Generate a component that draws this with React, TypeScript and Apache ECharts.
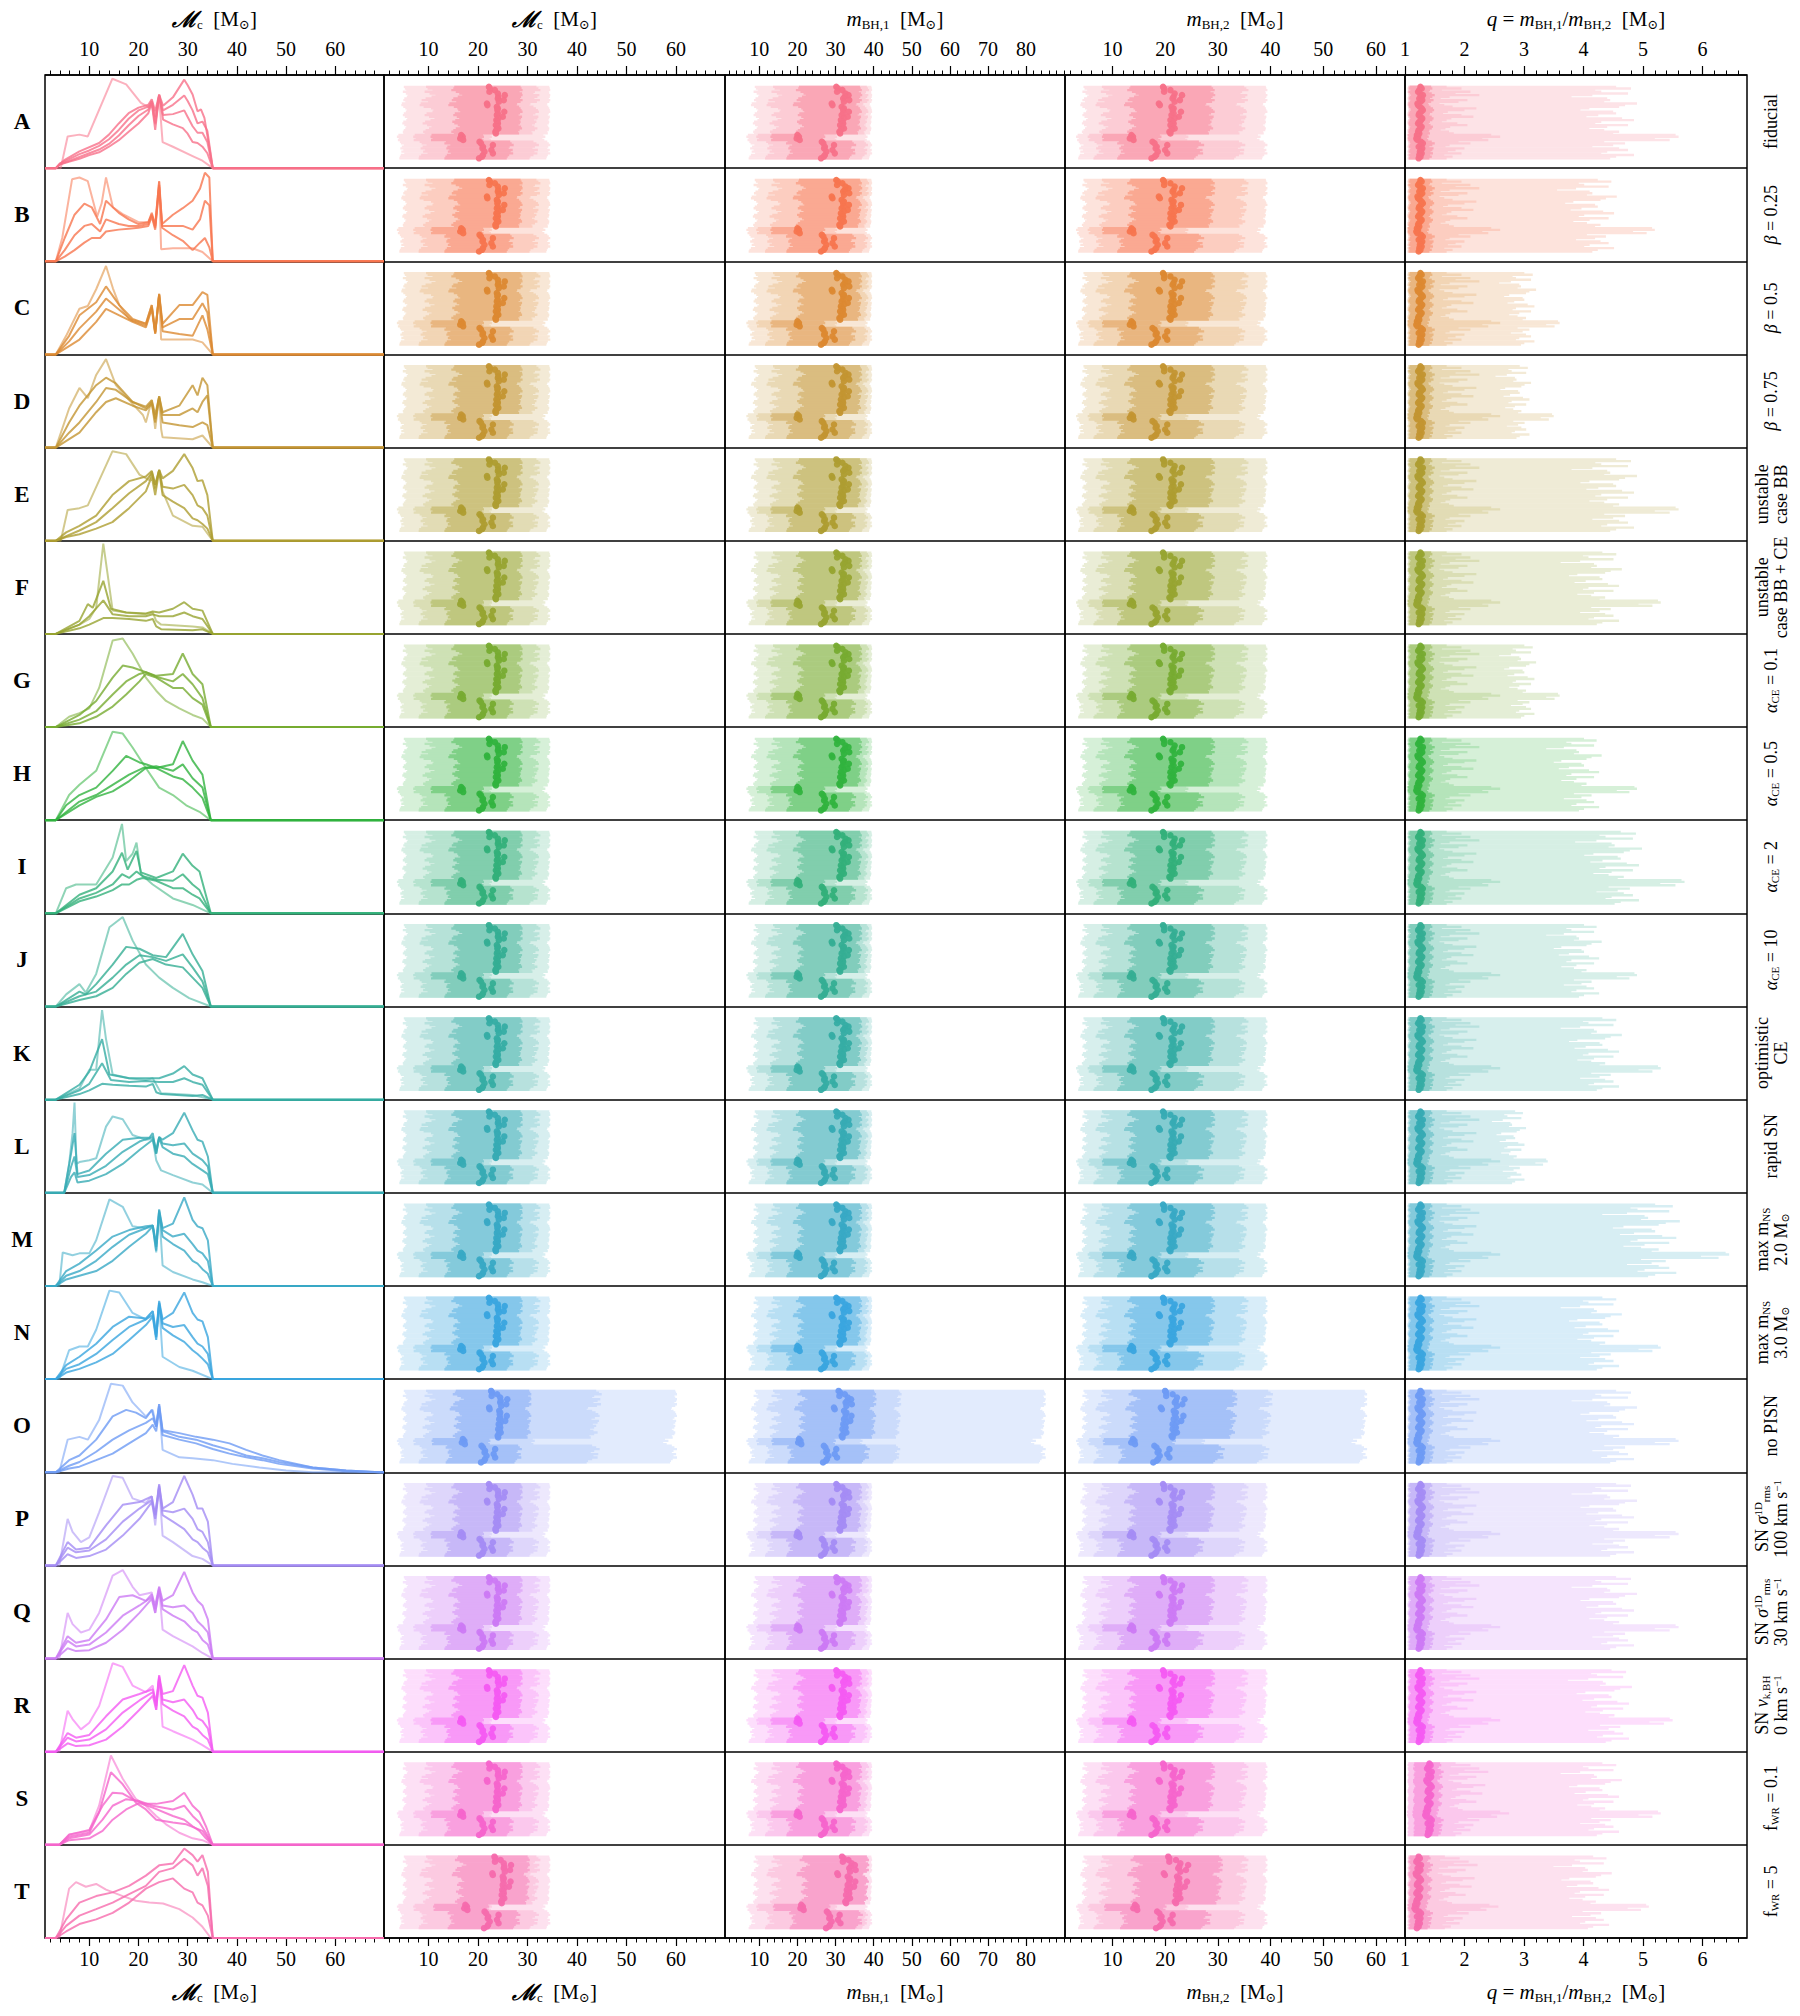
import React, { useEffect, useRef } from 'react';
import * as echarts from 'echarts';

const SERIF = "'Liberation Serif', 'DejaVu Serif', serif";
const ROWS = ['A','B','C','D','E','F','G','H','I','J','K','L','M','N','O','P','Q','R','S','T'];

const RIGHT_LABELS = [
  '{n|fiducial}',
  '{i|β}{n| = 0.25}',
  '{i|β}{n| = 0.5}',
  '{i|β}{n| = 0.75}',
  '{n|unstable}\n{n|case BB}',
  '{n|unstable}\n{n|case BB + CE}',
  '{i|α}{s|CE}{n| = 0.1}',
  '{i|α}{s|CE}{n| = 0.5}',
  '{i|α}{s|CE}{n| = 2}',
  '{i|α}{s|CE}{n| = 10}',
  '{n|optimistic}\n{n|CE}',
  '{n|rapid SN}',
  '{n|max m}{s|NS}\n{n|2.0 M}{s|⊙}',
  '{n|max m}{s|NS}\n{n|3.0 M}{s|⊙}',
  '{n|no PISN}',
  '{n|SN }{i|σ}{u|1D}{s|rms}\n{n|100 km s}{u|−1}',
  '{n|SN }{i|σ}{u|1D}{s|rms}\n{n|30 km s}{u|−1}',
  '{n|SN }{i|v}{s|k,BH}\n{n|0 km s}{u|−1}',
  '{n|f}{s|WR}{n| = 0.1}',
  '{n|f}{s|WR}{n| = 5}',
];

const TITLE_MC = '{m|ℳ}{s|c}{n|  [M}{s|⊙}{n|]}';
const TITLE_M1 = '{i|m}{s|BH,1}{n|  [M}{s|⊙}{n|]}';
const TITLE_M2 = '{i|m}{s|BH,2}{n|  [M}{s|⊙}{n|]}';
const TITLE_Q = '{i|q}{n| = }{i|m}{s|BH,1}{n|/}{i|m}{s|BH,2}{n|  [M}{s|⊙}{n|]}';

const TICKS_MC = [10, 20, 30, 40, 50, 60];
const TICKS_M1 = [10, 20, 30, 40, 50, 60, 70, 80];
const TICKS_M2 = [10, 20, 30, 40, 50, 60];
const TICKS_Q = [1, 2, 3, 4, 5, 6];

// ---- Column 1: chirp-mass distributions, flat [x, y(% of panel height)] ----
const LINES_A = [
  [4.2,0, 5.6,34, 8.0,36, 9.7,34, 14.7,96, 17.5,90, 20.5,70, 22.2,65, 22.7,70, 23.4,47, 24.2,76, 24.9,28, 27.0,23, 31.0,13, 33.0,8, 35.1,0],
  [3.2,0, 5,9, 8,18, 12,27, 14,36, 16,48, 18,59, 20,65, 22,68, 22.7,74, 23.4,61, 24.2,79, 25,67, 27,76, 29.3,95, 30,89, 31,79, 32,61, 32.7,63, 33.4,54, 35.1,0],
  [3.2,0, 4,5, 6,10, 8,15, 10,19, 12,24, 14,31, 16,41, 18,53, 20,62, 22,66, 22.7,72, 23.4,55, 24.2,78, 25,62, 27,68, 29.3,78, 30,72, 31,62, 32,48, 33,50, 34,40, 35.1,0],
  [3.2,0, 4,4, 6,8, 8,12, 10,16, 12,20, 14,26, 16,35, 18,46, 20,56, 22,63, 22.7,71, 23.4,48, 24.2,78, 25,57, 27,58, 29.3,62, 30,55, 31,45, 32,38, 33,38, 34,28, 35.1,0],
  [3.2,0, 4,4, 6,7, 8,10, 10,14, 12,17, 14,23, 16,30, 18,39, 20,48, 22,59, 22.7,70, 23.4,41, 24.2,79, 25,52, 27,47, 29,43, 30,37, 31,28, 32,27, 33,23, 34,16, 35.1,0],
];
const LINES_B = [
  [3.2,0, 4.5,25, 6.5,88, 8,90, 9.7,86, 11.6,48, 12.5,62, 13.4,90, 14.8,58, 17,50, 20,42, 22,42, 22.7,50, 23.4,40, 24.2,85, 24.6,13, 27,14, 31,14, 33,10, 35.1,0],
  [3.2,0, 5,25, 7,50, 9,62, 10.5,58, 12.2,40, 13.4,65, 16,52, 18,45, 20,40, 22,42, 22.7,52, 23.4,38, 24.2,86, 24.8,40, 27,50, 29,57, 31,65, 32.5,78, 33.5,95, 34.4,90, 35.1,0],
  [3.2,0, 5,12, 7,28, 9,38, 10.5,40, 12.2,32, 13.4,45, 16,40, 18,38, 20,38, 22,40, 22.7,50, 23.4,36, 24.2,82, 24.8,38, 27,38, 29,38, 31,34, 32.5,45, 33.5,65, 34.4,60, 35.1,0],
  [3.2,0, 5,5, 7,12, 9,20, 10.5,25, 12.2,25, 13.4,32, 16,34, 18,35, 20,36, 22,38, 22.7,48, 23.4,34, 24.2,80, 24.8,36, 27,28, 29,22, 31,12, 32.5,20, 33.5,25, 34.4,15, 35.1,0],
];
const LINES_C = [
  [3.2,0, 5.3,20, 8,49, 9.7,52, 11.4,70, 13.4,95, 14.8,71, 16.1,53, 18.1,38, 21.5,33, 22.7,53, 23.4,24, 24.2,65, 24.6,16, 31,16, 33,13, 35.1,0],
  [3.2,0, 5.9,20, 8,42, 11.4,56, 13.4,73, 16.1,53, 18.8,38, 21.5,33, 22.7,53, 23.4,24, 24.2,65, 24.9,33, 28.3,53, 31,53, 33,67, 34,64, 35.1,0],
  [3.2,0, 5.9,14, 8,28, 11.4,46, 13.4,60, 16.1,48, 18.8,36, 21.5,31, 22.7,51, 23.4,23, 24.2,64, 24.9,29, 28.3,38, 31,38, 33,55, 34,45, 35.1,0],
  [3.2,0, 5.9,9, 8,16, 11.4,35, 13.4,49, 16.1,42, 18.8,35, 21.5,29, 22.7,49, 23.4,22, 24.2,64, 24.9,25, 28.3,22, 31,20, 33,42, 34,27, 35.1,0],
];
const LINES_D = [
  [3.2,0, 5.9,42, 8,64, 9.7,53, 11.4,78, 13.4,95, 15.4,67, 18.1,51, 20.9,35, 21.5,27, 22.7,51, 23.4,20, 24.2,55, 24.6,20, 24.9,11, 31,9, 33,13, 35.1,0],
  [3.2,0, 5.9,27, 8,45, 11.4,67, 13.4,75, 15.4,69, 18.8,49, 21.5,44, 22.7,51, 23.4,35, 24.2,55, 24.9,38, 28.3,45, 31,67, 32,56, 33,75, 34,67, 35.1,0],
  [3.2,0, 5.9,16, 8,27, 11.4,49, 13.4,64, 15.4,62, 18.8,49, 21.5,42, 22.7,49, 23.4,31, 24.2,55, 24.9,35, 28.3,35, 31,42, 32,38, 33,49, 34,56, 35.1,0],
  [3.2,0, 5.9,9, 8,16, 11.4,38, 13.4,49, 15.4,53, 18.8,45, 21.5,40, 22.7,47, 23.4,27, 24.2,53, 24.9,27, 28.3,24, 31,22, 33,27, 34,24, 35.1,0],
];
const LINES_E = [
  [4.2,0, 5.6,33, 8,35, 9.7,38, 14.7,96, 17.5,93, 20.2,71, 22.2,65, 22.7,75, 23.4,60, 24.2,76, 24.9,53, 27,27, 31,16, 33,15, 35.1,0],
  [3.2,0, 5.3,9, 8,16, 11.4,27, 14.7,49, 18.1,64, 21.5,69, 22.7,75, 23.4,60, 24.2,76, 24.9,67, 27,75, 29.3,93, 31,78, 32,64, 33,65, 34,49, 35.1,0],
  [3.2,0, 5.3,5, 8,11, 11.4,20, 14.7,35, 18.1,51, 21.5,64, 22.7,73, 23.4,56, 24.2,76, 24.9,58, 27,56, 29.3,60, 31,49, 32,38, 33,35, 34,27, 35.1,0],
  [3.2,0, 5.3,4, 8,7, 11.4,13, 14.7,20, 18.1,35, 21.5,53, 22.7,69, 23.4,49, 24.2,75, 24.9,49, 27,42, 29.3,35, 31,24, 32,22, 33,18, 34,13, 35.1,0],
];
const LINES_F = [
  [3.2,0, 8,10, 10,16, 11.4,28, 12,57, 12.85,97, 13.7,65, 14.75,25, 17.5,23, 21.5,21, 22.9,23, 23.6,14, 24.6,10, 31,8, 33,7, 35.1,0],
  [3.2,0, 8,14, 9.7,32, 10.7,28, 12.85,57, 14.4,27, 17.5,23, 21.5,22, 22.9,24, 24.2,23, 27,27, 29.3,34, 31,27, 33,25, 35.1,0],
  [3.2,0, 8,10, 10,19, 12.85,36, 14.75,21, 18.1,19, 21.5,19, 22.9,21, 24.2,19, 27,19, 29.3,23, 31,19, 33,16, 35.1,0],
  [3.2,0, 8,6, 10,10, 12.85,17, 14.75,17, 18.1,16, 21.5,14, 22.9,16, 23.6,8, 24.6,5, 31,4, 33,5, 35.1,0],
];
const LINES_G = [
  [3.2,0, 5.9,11, 8,15, 10,20, 12,42, 14.75,93, 16.8,95, 18.8,79, 21.5,53, 23.6,39, 25.6,28, 28.3,20, 31,13, 33,9, 34.7,0],
  [3.2,0, 8,13, 11.4,28, 14.75,53, 16.8,66, 18.8,64, 21.5,59, 23.6,55, 27,57, 29,79, 31,57, 33,46, 34.7,0],
  [3.2,0, 8,8, 11.4,17, 14.75,35, 17.5,49, 20.2,57, 21.5,59, 23.6,54, 27,49, 29,57, 31,46, 33,31, 34.7,0],
  [3.2,0, 8,4, 11.4,11, 14.75,22, 17.5,35, 20.2,49, 21.5,57, 23.6,53, 27,42, 29,42, 31,31, 33,24, 34.7,0],
];
const LINES_H = [
  [3.2,0, 5.9,27, 8,38, 11.4,53, 14.75,95, 16.8,93, 18.8,78, 21.5,56, 24.2,35, 27,27, 29.7,16, 32.4,9, 34.7,0],
  [3.2,0, 5.3,16, 8,27, 11.4,35, 14.75,53, 17.5,69, 20.2,62, 21.5,60, 23.6,56, 27,60, 29,85, 31,64, 33,49, 34.7,0],
  [3.2,0, 8,20, 11.4,27, 14.75,38, 18.1,49, 20.9,56, 23.6,58, 27,53, 29,60, 31,45, 33,35, 34.7,0],
  [3.2,0, 8,16, 11.4,25, 14.75,31, 18.1,42, 21.5,56, 23.6,56, 27,47, 29,44, 31,35, 33,24, 34.7,0],
];
const LINES_I = [
  [3.2,0, 5.3,27, 7.3,31, 11.4,31, 14.75,60, 16.65,96, 17.5,56, 18.8,64, 19.6,76, 20.5,42, 22.9,31, 27,16, 31,9, 34.7,0],
  [3.2,0, 8,20, 11.4,27, 14.75,45, 16.65,65, 17.8,47, 19.6,67, 20.5,44, 23.6,38, 27,45, 29,64, 31,51, 32.4,45, 34.7,0],
  [3.2,0, 8,16, 11.4,22, 14.75,31, 16.65,42, 18.1,38, 19.6,45, 20.85,40, 23.6,36, 27,35, 29,42, 31,31, 32.4,25, 34.7,0],
  [3.2,0, 8,13, 11.4,18, 14.75,25, 16.65,31, 18.1,31, 19.6,36, 20.85,38, 23.6,35, 27,27, 29,27, 31,20, 32.4,16, 34.7,0],
];
const LINES_J = [
  [3.2,0, 5.3,13, 8,24, 9.3,15, 11.4,35, 14.1,85, 16.8,96, 18.8,71, 21.5,45, 24.2,31, 27,20, 30.3,9, 34.7,0],
  [3.2,0, 8,16, 9.3,13, 11.4,24, 14.75,45, 17.5,64, 20.2,62, 22.9,55, 25.6,53, 29,78, 31,56, 33,38, 34.7,0],
  [3.2,0, 8,11, 11.4,16, 14.75,31, 17.5,45, 20.2,55, 22.9,53, 25.6,49, 29,56, 31,42, 33,27, 34.7,0],
  [3.2,0, 8,7, 11.4,11, 14.75,20, 17.5,35, 20.2,47, 22.9,51, 25.6,45, 29,42, 31,31, 33,20, 34.7,0],
];
const LINES_K = [
  [3.2,0, 8,12, 10,32, 11.4,32, 12,65, 12.6,96, 13.4,65, 14.75,27, 18.1,23, 21.5,21, 22.9,23, 24.6,7, 31,5, 35.1,0],
  [3.2,0, 8,16, 10,30, 12.6,65, 14.1,27, 18.1,23, 21.5,23, 24.2,23, 27,28, 29.3,36, 31,27, 33,23, 35.1,0],
  [3.2,0, 8,10, 10,17, 12.6,39, 14.4,21, 18.1,19, 21.5,20, 24.2,19, 27,19, 29.3,23, 31,19, 33,16, 35.1,0],
  [3.2,0, 8,6, 10,10, 12.6,17, 14.75,16, 18.1,15, 21.5,14, 22.9,17, 23.6,8, 24.6,6, 31,4, 33,5, 35.1,0],
];
const LINES_L = [
  [4.9,0, 5.9,31, 6.6,64, 7.0,97, 7.4,31, 8,33, 10,35, 11.4,37, 13.4,71, 14.75,82, 16.8,79, 18.8,62, 21.5,57, 22.9,58, 23.6,35, 24.6,24, 27,19, 31,11, 33,9, 35.1,0],
  [4.9,0, 6.3,42, 7.0,64, 7.6,20, 10,24, 13.4,42, 16.8,57, 20.2,59, 22.2,59, 22.9,64, 23.6,42, 24.2,60, 24.9,57, 27,64, 29.3,86, 31,67, 32,57, 33,55, 34.1,39, 35.1,0],
  [4.9,0, 6.3,28, 7.0,39, 7.6,17, 10,19, 13.4,29, 16.8,44, 20.2,55, 22.9,60, 23.6,46, 24.2,60, 24.9,53, 27,51, 29.3,53, 31,42, 33,35, 34.1,28, 35.1,0],
  [4.9,0, 6.3,17, 7.0,22, 7.6,11, 10,13, 13.4,20, 16.8,31, 20.2,46, 22.9,57, 23.6,42, 24.2,59, 24.9,49, 27,42, 29.3,39, 31,31, 33,24, 34.1,20, 35.1,0],
];
const LINES_M = [
  [3.9,0, 4.6,36, 6.6,33, 8,35, 10,35, 11.4,49, 14.1,93, 16.8,85, 18.8,64, 21.5,62, 22.9,64, 23.6,36, 24.2,82, 24.9,22, 27,15, 31,7, 33,4, 35.1,0],
  [3.2,0, 5.3,16, 8,24, 11.4,38, 14.75,53, 18.1,60, 21.5,64, 22.9,65, 23.6,42, 24.2,82, 24.9,62, 27,67, 29.3,95, 31,71, 32,64, 33,62, 34.1,49, 35.1,0],
  [3.2,0, 5.3,11, 8,16, 11.4,27, 14.75,42, 18.1,55, 21.5,62, 22.9,65, 23.6,45, 24.2,80, 24.9,60, 27,53, 29.3,56, 31,45, 32,38, 33,35, 34.1,27, 35.1,0],
  [3.2,0, 5.3,7, 8,11, 11.4,16, 14.75,27, 18.1,42, 21.5,56, 22.9,64, 23.6,38, 24.2,78, 24.9,53, 27,45, 29.3,38, 31,27, 32,24, 33,18, 34.1,13, 35.1,0],
];
const LINES_N = [
  [3.9,0, 5.9,31, 8,35, 9.7,35, 11.4,53, 14.1,95, 16.1,93, 18.8,71, 21.5,64, 22.9,73, 23.6,45, 24.2,82, 24.9,24, 28.3,13, 31,9, 35.1,0],
  [3.2,0, 5.3,15, 8,24, 11.4,38, 14.75,56, 18.1,67, 21.5,65, 22.9,73, 23.6,49, 24.2,84, 24.9,64, 27,71, 29.3,93, 31,71, 32,64, 33,62, 34.1,45, 35.1,0],
  [3.2,0, 5.3,11, 8,16, 11.4,27, 14.75,42, 18.1,56, 21.5,64, 22.9,69, 23.6,45, 24.2,82, 24.9,60, 27,56, 29.3,58, 31,45, 32,38, 33,35, 34.1,27, 35.1,0],
  [3.2,0, 5.3,7, 8,11, 11.4,18, 14.75,27, 18.1,42, 21.5,58, 22.9,67, 23.6,42, 24.2,80, 24.9,55, 27,47, 29.3,40, 31,31, 32,27, 33,22, 34.1,16, 35.1,0],
];
const LINES_O = [
  [3.9,0, 5.6,35, 8,38, 9.7,35, 12,56, 14.4,95, 16.8,93, 18.8,75, 21.5,60, 22.9,67, 23.6,49, 24.2,73, 24.9,24, 28.3,16, 31,15, 35.1,13, 39.1,9, 44.6,5, 50,2, 55.4,0],
  [3.2,0, 5.9,13, 8,18, 11.4,35, 14.75,60, 17.5,67, 19.5,64, 21.5,58, 22.7,67, 23.6,49, 24.2,73, 24.9,45, 28.3,42, 31.7,38, 35.1,35, 38.5,31, 41.9,24, 45.2,18, 48.6,13, 55.4,5, 62.2,2, 69,0],
  [3.2,0, 5.9,7, 8,11, 11.4,22, 14.75,35, 18.1,45, 21.5,53, 22.9,58, 23.6,49, 24.2,71, 24.9,44, 28.3,38, 31.7,35, 35.1,29, 38.5,24, 41.9,18, 45.2,15, 48.6,11, 55.4,5, 62.2,2, 69,0],
  [3.2,0, 5.9,4, 8,6, 11.4,13, 14.75,20, 18.1,31, 21.5,42, 22.9,51, 23.6,44, 24.2,67, 24.9,40, 28.3,35, 31.7,31, 35.1,25, 38.5,20, 41.9,16, 45.2,13, 48.6,9, 55.4,4, 62.2,1, 69,0],
];
const LINES_P = [
  [3.9,0, 5.6,50, 6.6,36, 8.3,25, 10,30, 12,57, 14.75,96, 16.8,94, 18.8,72, 21.5,67, 22.7,74, 23.4,43, 24.2,87, 24.9,32, 27,25, 31,10, 33,7, 35.1,0],
  [3.2,0, 5.6,25, 7.3,17, 10,19, 13.4,43, 16.8,65, 20.2,68, 22.7,74, 23.4,54, 24.2,87, 24.9,61, 27,68, 29.3,96, 31,76, 32,61, 33,61, 34.1,47, 35.1,0],
  [3.2,0, 5.6,19, 7.3,14, 10,16, 13.4,28, 16.8,47, 20.2,61, 22.7,70, 23.4,54, 24.2,85, 24.9,59, 27,57, 29.3,61, 31,50, 32,39, 33,36, 34.1,25, 35.1,0],
  [3.2,0, 5.6,12, 7.3,8, 10,10, 13.4,17, 16.8,32, 20.2,50, 22.7,68, 23.4,50, 24.2,83, 24.9,54, 27,47, 29.3,39, 31,28, 32,25, 33,19, 34.1,14, 35.1,0],
];
const LINES_Q = [
  [3.9,0, 5.6,49, 6.6,37, 8.3,28, 10,31, 12,49, 14.75,89, 16.8,95, 18.8,77, 20.2,68, 22.7,71, 23.4,49, 24.2,77, 24.9,31, 27,24, 31,13, 33,6, 35.1,0],
  [3.2,0, 5.6,24, 7.3,17, 10,20, 13.4,42, 16.1,66, 18.8,68, 21.5,62, 22.7,69, 23.4,57, 24.2,77, 24.9,62, 27,68, 29.3,93, 31,71, 32,62, 33,57, 34.1,42, 35.1,0],
  [3.2,0, 5.6,19, 7.3,13, 10,15, 13.4,28, 16.8,46, 20.2,57, 22.7,66, 23.4,53, 24.2,75, 24.9,57, 27,55, 29.3,57, 31,49, 32,40, 33,35, 34.1,28, 35.1,0],
  [3.2,0, 5.6,11, 7.3,8, 10,9, 13.4,17, 16.8,31, 20.2,49, 22.7,64, 23.4,49, 24.2,73, 24.9,53, 27,46, 29.3,40, 31,31, 32,28, 33,20, 34.1,15, 35.1,0],
];
const LINES_R = [
  [3.9,0, 5.6,44, 6.6,35, 8.3,24, 10,31, 12,49, 14.75,95, 16.8,91, 18.8,71, 21.5,64, 22.9,71, 23.6,45, 24.2,82, 24.9,27, 27,22, 31,13, 33,7, 35.1,0],
  [3.2,0, 5.6,20, 7.3,15, 10,18, 13.4,38, 16.8,56, 20.2,62, 22.9,67, 23.6,53, 24.2,82, 24.9,62, 27,65, 29.3,93, 31,71, 32,60, 33,58, 34.1,42, 35.1,0],
  [3.2,0, 5.6,15, 7.3,11, 10,13, 13.4,24, 16.8,42, 20.2,55, 22.9,64, 23.6,49, 24.2,80, 24.9,56, 27,53, 29.3,56, 31,45, 32,36, 33,33, 34.1,25, 35.1,0],
  [3.2,0, 5.6,9, 7.3,6, 10,7, 13.4,13, 16.8,27, 20.2,45, 22.9,60, 23.6,45, 24.2,78, 24.9,51, 27,44, 29.3,38, 31,27, 32,24, 33,18, 34.1,13, 35.1,0],
];
const LINES_S = [
  [3.9,0, 5.9,11, 8,13, 10,15, 12,42, 14.4,96, 16.8,71, 19.5,49, 21.5,42, 23.6,31, 25.6,22, 28.3,13, 31,7, 33,5, 35.1,0],
  [3.9,0, 5.9,9, 10,13, 12,35, 14.4,78, 16.8,65, 19.5,45, 21.5,38, 23.6,27, 27,24, 29.7,22, 33,15, 35.1,0],
  [3.9,0, 5.9,11, 10,16, 12.7,42, 14.75,56, 16.8,55, 19.5,47, 21.5,44, 23.6,44, 27,47, 29.3,56, 31,42, 32.4,35, 33.7,20, 35.1,0],
  [3.9,0, 5.9,7, 10,11, 12.7,27, 14.75,42, 17.5,49, 20.2,47, 22.9,42, 27,38, 29.3,42, 31,31, 32.4,24, 33.7,13, 35.1,0],
  [3.9,0, 5.9,5, 10,7, 12.7,15, 14.75,27, 17.5,38, 20.2,45, 22.9,40, 27,31, 29.3,27, 31,20, 32.4,15, 33.7,7, 35.1,0],
];
const LINES_T = [
  [3.9,0, 5.9,53, 7.3,60, 9.3,55, 11.4,58, 13.4,52, 16.8,45, 19.5,40, 22.2,38, 25,37, 28.3,31, 31,22, 33,12, 34.7,0],
  [3.2,0, 5.3,20, 8,38, 11.4,45, 14.75,49, 18.1,56, 21.5,67, 24.2,78, 27,80, 29.3,96, 31,89, 32,82, 33,89, 34.1,71, 35.1,0],
  [3.2,0, 5.3,13, 8,24, 11.4,31, 14.75,38, 18.1,47, 21.5,56, 24.2,71, 27,75, 29.3,85, 31,78, 32,67, 33,75, 34.1,56, 35.1,0],
  [3.2,0, 5.3,7, 8,15, 11.4,20, 14.75,27, 18.1,38, 21.5,53, 24.2,60, 27,64, 29.3,53, 31,49, 32,38, 33,35, 34.1,24, 35.1,0],
];
const LINES = [LINES_A, LINES_B, LINES_C, LINES_D, LINES_E, LINES_F, LINES_G, LINES_H, LINES_I, LINES_J,
  LINES_K, LINES_L, LINES_M, LINES_N, LINES_O, LINES_P, LINES_Q, LINES_R, LINES_S, LINES_T];

// ---- Columns 2-5: per-event medians and credible intervals (44 events, top to bottom) ----
const MC_MED = [22.2,22.4,23.4,22.3,24.0,25.4,24.1,24.0,25.2,24.2,21.8,21.9,23.8,24.0,23.9,25.3,24.0,23.8,25.0,24.1,23.7,23.9,24.0,23.6,23.9,24.1,23.7,23.5,23.6,16.6,16.9,16.4,17.0,20.3,20.6,23.0,21.0,20.9,22.7,21.3,23.0,21.0,20.8,20.2];
const MC_IN_LO = [15.2,15.0,14.6,15.5,16.2,16.8,15.9,15.0,14.7,15.6,14.2,14.0,15.1,15.8,16.0,16.4,15.3,15.0,15.7,16.2,15.4,14.8,15.2,15.9,16.3,15.5,15.0,14.6,15.1,10.6,10.4,10.8,10.5,13.5,13.2,14.4,13.8,13.6,14.2,13.9,14.5,13.7,13.4,13.2];
const MC_IN_HI = [28.6,28.8,29.0,28.4,28.9,29.0,28.7,28.5,29.0,28.6,27.9,27.8,28.3,28.6,28.8,29.0,28.5,28.2,28.9,28.7,28.4,28.6,28.5,28.2,28.7,28.9,28.4,28.1,28.3,21.0,21.2,20.8,21.1,26.5,26.8,27.2,26.4,26.2,27.0,26.6,27.1,26.3,26.0,25.8];
const MC_MID_LO = [9.5,9.8,10.8,9.2,10.2,11.4,10.6,9.4,8.6,9.9,8.4,8.2,9.0,10.5,11.0,10.8,9.6,9.2,10.1,11.2,10.4,9.3,8.8,9.7,10.6,10.1,9.4,8.9,9.2,7.2,6.9,7.4,7.0,8.2,8.6,9.6,8.8,8.4,9.3,8.9,9.8,8.5,8.1,8.0];
const MC_MID_HI = [31.8,32.2,32.6,31.5,31.2,32.4,32.0,31.4,32.5,31.9,30.6,30.4,31.2,31.7,32.1,32.3,31.6,31.1,32.2,32.0,31.3,31.8,31.5,30.9,31.4,32.0,31.5,30.8,31.0,22.5,22.8,22.3,22.6,31.2,31.8,32.3,31.5,31.0,32.1,31.4,32.0,31.2,30.6,30.4];
const MC_OUT_LO = [5.0,5.2,5.5,4.8,5.4,5.8,5.6,5.1,4.9,5.3,4.6,4.5,4.9,5.3,5.6,5.4,5.0,4.8,5.2,5.7,5.5,4.9,4.7,5.1,5.5,5.3,5.0,4.8,4.9,3.9,3.6,4.0,3.8,4.2,4.4,5.0,4.6,4.3,4.9,4.5,5.1,4.4,4.2,4.1];
const MC_OUT_HI = [34.4,34.5,34.6,34.3,34.4,34.6,34.5,34.3,34.6,34.4,34.0,33.9,34.2,34.4,34.5,34.6,34.3,34.1,34.5,34.4,34.2,34.4,34.3,34.0,34.2,34.4,34.3,34.0,34.1,33.2,33.6,33.0,33.4,34.0,34.3,34.6,34.2,34.0,34.5,34.2,34.6,34.1,33.9,33.8];

const M1_MED = [30.2,30.6,31.8,30.4,32.6,33.4,32.4,32.0,33.6,32.2,29.0,29.2,31.6,32.2,32.0,33.5,32.0,31.6,33.2,32.2,31.4,31.8,32.0,31.2,31.8,32.2,31.4,31.0,31.2,20.0,20.4,19.8,20.6,26.4,26.8,29.6,27.2,27.0,29.2,27.6,29.8,27.2,26.9,26.2];
const M1_IN_LO = [20.4,20.2,19.6,20.8,21.6,22.2,21.2,20.2,19.8,20.8,19.0,18.8,20.2,21.0,21.4,21.8,20.5,20.1,21.0,21.6,20.6,19.9,20.3,21.2,21.7,20.7,20.1,19.6,20.2,13.2,12.9,13.5,13.1,17.4,17.0,18.6,17.9,17.6,18.4,18.0,18.8,17.7,17.3,17.1];
const M1_IN_HI = [36.4,36.6,36.9,36.1,36.7,37.0,36.5,36.2,36.9,36.4,35.5,35.3,36.0,36.4,36.6,36.9,36.2,35.8,36.7,36.5,36.1,36.4,36.2,35.8,36.4,36.7,36.1,35.7,35.9,27.0,27.3,26.7,27.1,34.4,34.8,35.4,34.2,34.0,35.1,34.6,35.2,34.2,33.8,33.5];
const M1_MID_LO = [13.6,14.0,15.4,13.2,14.6,16.0,15.0,13.5,12.4,14.1,12.2,11.9,13.0,14.9,15.6,15.3,13.8,13.2,14.4,15.8,14.8,13.4,12.7,13.9,15.1,14.4,13.5,12.8,13.2,9.6,9.2,9.9,9.4,11.8,12.3,13.6,12.6,12.1,13.3,12.7,13.9,12.2,11.7,11.5];
const M1_MID_HI = [38.2,38.5,38.8,38.0,37.8,38.6,38.3,37.9,38.7,38.3,37.3,37.1,37.7,38.1,38.4,38.6,38.0,37.6,38.5,38.3,37.8,38.2,37.9,37.5,37.9,38.3,37.9,37.4,37.6,30.0,30.4,29.8,30.2,37.6,38.0,38.5,37.8,37.4,38.3,37.8,38.2,37.6,37.1,36.9];
const M1_OUT_LO = [8.8,9.1,9.6,8.5,9.3,10.0,9.7,9.0,8.6,9.2,8.0,7.8,8.6,9.2,9.7,9.4,8.8,8.5,9.1,9.9,9.5,8.6,8.3,8.9,9.6,9.3,8.8,8.4,8.6,7.0,6.6,7.2,6.9,7.4,7.7,8.7,8.1,7.6,8.5,8.0,8.9,7.8,7.4,7.2];
const M1_OUT_HI = [39.4,39.5,39.6,39.3,39.4,39.6,39.5,39.3,39.6,39.4,39.0,38.9,39.2,39.4,39.5,39.6,39.3,39.1,39.5,39.4,39.2,39.4,39.3,39.0,39.2,39.4,39.3,39.0,39.1,38.0,38.4,37.8,38.2,39.0,39.3,39.6,39.2,39.0,39.5,39.2,39.6,39.1,38.9,38.8];

const M2_MED = [19.6,19.8,21.0,19.8,21.8,23.2,21.6,21.4,22.8,21.8,18.8,19.0,21.2,21.6,21.4,23.0,21.6,21.2,22.6,21.8,21.0,21.4,21.6,21.0,21.4,21.8,21.2,20.8,21.0,13.6,13.9,13.3,14.0,17.6,18.0,20.4,18.4,18.2,20.0,18.6,20.4,18.3,18.0,17.4];
const M2_IN_LO = [13.4,13.2,12.8,13.7,14.4,15.0,14.1,13.2,12.9,13.8,12.4,12.2,13.3,14.0,14.3,14.6,13.5,13.2,13.9,14.4,13.6,13.0,13.4,14.1,14.5,13.7,13.2,12.8,13.3,8.2,8.0,8.4,8.1,11.2,10.9,12.2,11.6,11.3,12.0,11.6,12.3,11.4,11.1,10.9];
const M2_IN_HI = [28.8,29.1,29.4,28.6,29.2,29.5,29.0,28.7,29.4,28.9,27.8,27.6,28.4,28.8,29.1,29.4,28.7,28.3,29.2,29.0,28.5,28.8,28.6,28.2,28.8,29.1,28.5,28.1,28.3,19.0,19.3,18.7,19.1,26.4,26.8,27.4,26.3,26.0,27.1,26.6,27.2,26.2,25.8,25.5];
const M2_MID_LO = [8.0,8.3,9.4,7.8,8.8,10.0,9.2,8.0,7.3,8.5,7.0,6.8,7.6,9.0,9.6,9.4,8.2,7.8,8.7,9.8,9.0,7.9,7.4,8.3,9.2,8.7,8.0,7.5,7.8,5.6,5.3,5.8,5.5,6.6,7.0,8.1,7.3,6.9,7.8,7.4,8.3,7.0,6.6,6.4];
const M2_MID_HI = [35.0,35.4,35.8,34.6,34.3,35.6,35.2,34.5,35.7,35.1,33.6,33.4,34.3,34.9,35.3,35.5,34.8,34.2,35.4,35.2,34.4,35.0,34.6,34.0,34.5,35.2,34.7,33.9,34.1,24.0,24.4,23.8,24.2,34.0,34.6,35.2,34.3,33.8,35.0,34.2,34.9,34.0,33.4,33.1];
const M2_OUT_LO = [4.5,4.7,5.2,4.3,4.9,5.5,5.2,4.6,4.3,4.8,4.0,3.9,4.3,4.8,5.2,5.0,4.5,4.3,4.7,5.3,5.0,4.4,4.2,4.6,5.1,4.8,4.5,4.2,4.4,3.4,3.1,3.6,3.3,3.6,3.8,4.5,4.0,3.7,4.4,3.9,4.6,3.8,3.6,3.5];
const M2_OUT_HI = [39.1,39.2,39.4,39.0,39.1,39.4,39.2,39.0,39.4,39.1,38.6,38.5,38.9,39.1,39.2,39.4,39.0,38.8,39.2,39.1,38.9,39.1,39.0,38.6,38.9,39.1,39.0,38.6,38.7,37.6,38.1,37.4,37.9,38.7,39.0,39.4,38.9,38.7,39.2,38.9,39.4,38.8,38.5,38.4];

const Q_MED = [1.26,1.28,1.24,1.22,1.25,1.30,1.27,1.24,1.29,1.26,1.21,1.22,1.25,1.28,1.30,1.27,1.24,1.23,1.26,1.29,1.27,1.24,1.22,1.25,1.28,1.26,1.23,1.22,1.24,1.20,1.22,1.19,1.21,1.27,1.30,1.26,1.23,1.29,1.27,1.25,1.28,1.24,1.26,1.23];
const Q_IN_LO = [1.08,1.07,1.09,1.06,1.08,1.10,1.08,1.07,1.09,1.08,1.06,1.06,1.07,1.09,1.10,1.08,1.07,1.06,1.08,1.09,1.08,1.07,1.06,1.07,1.09,1.08,1.07,1.06,1.07,1.05,1.06,1.05,1.06,1.08,1.09,1.08,1.07,1.09,1.08,1.07,1.09,1.07,1.08,1.07];
const Q_IN_HI = [1.44,1.46,1.42,1.40,1.45,1.50,1.46,1.42,1.48,1.44,1.39,1.40,1.43,1.47,1.49,1.46,1.42,1.41,1.45,1.48,1.46,1.42,1.40,1.43,1.47,1.45,1.41,1.40,1.42,1.38,1.40,1.37,1.39,1.45,1.50,1.46,1.41,1.48,1.46,1.43,1.47,1.42,1.45,1.41];
const Q_MID_LO = [1.06,1.05,1.07,1.05,1.06,1.07,1.06,1.05,1.07,1.06,1.05,1.05,1.06,1.07,1.07,1.06,1.05,1.05,1.06,1.07,1.06,1.05,1.05,1.06,1.07,1.06,1.05,1.05,1.06,1.04,1.05,1.04,1.05,1.06,1.07,1.06,1.05,1.07,1.06,1.05,1.07,1.05,1.06,1.05];
const Q_MID_HI = [1.70,1.95,1.62,2.10,1.85,2.25,1.75,1.60,2.05,1.90,1.58,1.66,1.80,2.20,2.00,1.72,1.64,1.95,2.15,1.78,1.70,1.62,1.88,2.05,1.76,1.68,1.60,1.74,1.82,2.45,2.60,2.30,2.40,1.90,2.10,1.75,1.68,2.00,1.85,1.72,1.95,1.66,1.80,1.70];
const Q_OUT_LO = [1.05,1.04,1.05,1.04,1.05,1.06,1.05,1.04,1.05,1.05,1.04,1.04,1.05,1.05,1.06,1.05,1.04,1.04,1.05,1.06,1.05,1.04,1.04,1.05,1.05,1.05,1.04,1.04,1.05,1.03,1.04,1.03,1.04,1.05,1.05,1.05,1.04,1.05,1.05,1.04,1.05,1.04,1.05,1.04];
const Q_OUT_HI = [4.55,4.80,4.20,4.30,4.75,4.15,3.80,4.40,4.45,4.35,4.90,4.70,4.60,4.10,3.95,4.50,4.55,4.25,4.05,4.65,4.85,4.30,4.20,4.75,4.40,4.10,4.35,4.60,4.50,5.55,5.60,5.20,5.45,4.35,4.70,4.50,4.15,4.60,4.75,4.40,4.30,4.85,4.55,4.45];

// per-row adjustments
const Q_ROW_MAX = [5.6,5.2,3.6,3.5,5.6,5.3,3.6,4.9,5.7,4.9,5.3,3.4,6.45,5.3,5.6,5.6,5.6,5.5,5.3,5.1];
const Q_ROW_SHIFT = [0,0,0,0,0,0,0,0,0,0,0,0,0,0,0,0,0,0,0.15,-0.03];
const MASS_ROW_SHIFT = [0,0,0,0,0,0,0,0,0,0,0,0,0,0,0.02,0,0,0,0,0.05];
const ROW_O = 14;
// 'no PISN' row: upper bounds of [inner, middle, outer] intervals are wider by these factors
const TAIL_MC = [1.04, 1.38, 1.74];
const TAIL_M1 = [1.08, 1.22, 2.15];
const TAIL_M2 = [1.12, 1.13, 1.48];

// ---------- colour helpers (seaborn husl palette) ----------
const HM = [[3.240969941904521,-1.537383177570093,-0.498610760293],[-0.96924363628087,1.87596750150772,0.041555057407175],[0.055630079696993,-0.20397695888897,1.056971514242878]];
function huslRgb(h: number, s: number, l: number): number[] {
  const sub1 = Math.pow(l + 16, 3) / 1560896;
  const sub2 = sub1 > 0.0088564516 ? sub1 : l / 903.2962962;
  const hr = h / 180 * Math.PI;
  let maxC = Infinity;
  for (let c = 0; c < 3; c++) {
    const [m1, m2, m3] = HM[c];
    for (let t = 0; t < 2; t++) {
      const top1 = (284517 * m1 - 94839 * m3) * sub2;
      const top2 = (838422 * m3 + 769860 * m2 + 731718 * m1) * l * sub2 - 769860 * t * l;
      const bottom = (632260 * m3 - 126452 * m2) * sub2 + 126452 * t;
      const slope = top1 / bottom, icpt = top2 / bottom;
      const len = icpt / (Math.sin(hr) - slope * Math.cos(hr));
      if (len >= 0) maxC = Math.min(maxC, len);
    }
  }
  const C = maxC / 100 * s;
  const U = Math.cos(hr) * C, V = Math.sin(hr) * C;
  const Y = l <= 8 ? l / 903.2962962 : Math.pow((l + 16) / 116, 3);
  const vu = U / (13 * l) + 0.19783000664283, vv = V / (13 * l) + 0.46831999493879;
  const X = -(9 * Y * vu) / ((vu - 4) * vv - vu * vv);
  const Z = (9 * Y - 15 * vv * Y - vv * X) / (3 * vv);
  return HM.map(r => {
    let c = r[0] * X + r[1] * Y + r[2] * Z;
    c = c <= 0.0031308 ? 12.92 * c : 1.055 * Math.pow(c, 1 / 2.4) - 0.055;
    return Math.round(Math.min(1, Math.max(0, c)) * 255);
  });
}
const toRgb = (c: number[]) => `rgb(${c[0]},${c[1]},${c[2]})`;
const mixWhite = (c: number[], a: number) => toRgb(c.map(v => Math.round(255 - (255 - v) * a)));

const ROW_RGB = ROWS.map((_, k) => huslRgb(((0.01 + k / 20) % 1) * 359, 89.1, 64.35));
const ROW_COLORS = ROW_RGB.map(toRgb);
const FILLS = [0.2, 0.36, 0.62].map(a => ROW_RGB.map(c => mixWhite(c, a)));

// ---------- layout ----------
const TOP = 75, PANEL_H = 1863, ROW_H = PANEL_H / 20;
const EV_ROW = 56, EV_PAD = 6.6;

function range(a: number, b: number, s: number) { const out: number[] = []; for (let v = a; v <= b + 1e-9; v += s) out.push(Math.round(v * 100) / 100); return out; }

const PANELS = [
  { left: 45, width: 339, min: 1, max: 69.9, major: TICKS_MC, minor: range(2, 68, 2) },
  { left: 384, width: 341, min: 1, max: 69.9, major: TICKS_MC, minor: range(2, 68, 2) },
  { left: 725, width: 340, min: 1, max: 90.2, major: TICKS_M1, minor: range(2, 90, 2) },
  { left: 1065, width: 340, min: 1, max: 65.5, major: TICKS_M2, minor: range(2, 64, 2) },
  { left: 1405, width: 342, min: 1, max: 6.75, major: TICKS_Q, minor: range(1.2, 6.6, 0.2) },
];
const TITLES = [TITLE_MC, TITLE_MC, TITLE_M1, TITLE_M2, TITLE_Q];

const MASS_COLS = [
  { med: MC_MED, iL: MC_IN_LO, iH: MC_IN_HI, mL: MC_MID_LO, mH: MC_MID_HI, oL: MC_OUT_LO, oH: MC_OUT_HI, tail: TAIL_MC },
  { med: M1_MED, iL: M1_IN_LO, iH: M1_IN_HI, mL: M1_MID_LO, mH: M1_MID_HI, oL: M1_OUT_LO, oH: M1_OUT_HI, tail: TAIL_M1 },
  { med: M2_MED, iL: M2_IN_LO, iH: M2_IN_HI, mL: M2_MID_LO, mH: M2_MID_HI, oL: M2_OUT_LO, oH: M2_OUT_HI, tail: TAIL_M2 },
];

function buildOption() {
  const grids: any[] = [], xAxes: any[] = [], yAxes: any[] = [], series: any[] = [];
  PANELS.forEach((p, g) => {
    grids.push({ left: p.left, top: TOP, width: p.width, height: PANEL_H, show: true, borderColor: '#000', borderWidth: 1.5, containLabel: false, outerBoundsMode: 'none' });
    const common = { type: 'value', gridIndex: g, min: p.min, max: p.max, axisLine: { show: false, onZero: false }, splitLine: { show: false }, minorTick: { show: false } };
    for (const pos of ['top', 'bottom']) {
      xAxes.push({ ...common, position: pos,
        axisTick: { show: true, inside: false, length: pos === 'top' ? 9 : 8, customValues: p.major, lineStyle: { color: '#000', width: 1.2 } },
        axisLabel: { show: true, customValues: p.major, margin: pos === 'top' ? 16 : 11, fontSize: 20, fontFamily: SERIF, color: '#000', hideOverlap: false, formatter: (v: number) => String(v) } });
      xAxes.push({ ...common, position: pos,
        axisTick: { show: true, inside: false, length: 4.5, customValues: p.minor, lineStyle: { color: '#000', width: 1 } },
        axisLabel: { show: false } });
    }
    yAxes.push({ type: 'value', gridIndex: g, min: 0, max: g === 0 ? 2000 : 20 * EV_ROW, interval: g === 0 ? 100 : EV_ROW, inverse: g !== 0,
      axisLine: { show: false, onZero: false }, axisTick: { show: false }, axisLabel: { show: false },
      splitLine: { show: true, lineStyle: { color: '#000', width: 1.5 } } });
  });

  // column 1 lines
  LINES.forEach((curves, r) => {
    const base = (19 - r) * 100;
    curves.forEach((flat, ci) => {
      const pts: number[][] = [[1, base]];
      for (let k = 0; k < flat.length; k += 2) pts.push([flat[k], base + flat[k + 1]]);
      pts.push([69.9, base]);
      series.push({ type: 'line', xAxisIndex: 0, yAxisIndex: 0, data: pts, symbol: 'none', showSymbol: false, silent: true,
        lineStyle: { color: ROW_COLORS[r], width: 2, opacity: ci === 0 ? 0.55 : 0.8 }, z: 3 });
    });
  });

  const mkRender = (level: number) => (params: any, api: any) => {
    const lo = api.value(0), hi = api.value(1), y = api.value(2), r = api.value(3);
    const a = api.coord([lo, y - 0.5]);
    const b = api.coord([hi, y + 0.5]);
    const top = Math.min(a[1], b[1]);
    return { type: 'rect', shape: { x: a[0], y: top - 0.35, width: b[0] - a[0], height: Math.abs(b[1] - a[1]) + 0.7 }, style: { fill: FILLS[level][r] } };
  };

  for (let c = 0; c < 4; c++) {
    const levels: any[][] = [[], [], []];
    const dots: any[] = [];
    for (let r = 0; r < 20; r++) {
      for (let i = 0; i < MC_MED.length; i++) {
        const y = r * EV_ROW + EV_PAD + i + 0.5;
        let med, iL, iH, mL, mH, oL, oH;
        if (c < 3) {
          const d = MASS_COLS[c];
          const s = 1 + MASS_ROW_SHIFT[r];
          med = d.med[i] * s; iL = d.iL[i] * s; iH = d.iH[i] * s;
          mL = d.mL[i]; mH = d.mH[i]; oL = d.oL[i]; oH = d.oH[i];
          if (r === ROW_O) {
            iH *= d.tail[0];
            mH *= d.tail[1];
            oH *= d.tail[2];
          }
        } else {
          const sh = Q_ROW_SHIFT[r];
          med = Q_MED[i] + sh; iL = Q_IN_LO[i] + Math.max(0, sh * 0.5); iH = Q_IN_HI[i] + sh;
          mL = Q_MID_LO[i]; mH = Q_MID_HI[i] + sh; oL = Q_OUT_LO[i];
          oH = 1 + (Q_OUT_HI[i] - 1) * (Q_ROW_MAX[r] - 1) / (5.6 - 1);
        }
        levels[0].push([oL, oH, y, r]);
        levels[1].push([mL, mH, y, r]);
        levels[2].push([iL, iH, y, r]);
        dots.push({ value: [med, y], itemStyle: { color: ROW_COLORS[r] } });
      }
    }
    levels.forEach((data, lv) => {
      series.push({ type: 'custom', xAxisIndex: 4 * (c + 1), yAxisIndex: c + 1, data, renderItem: mkRender(lv), silent: true, clip: true,
        encode: { x: [0, 1], y: 2 }, z: 2 + lv });
    });
    series.push({ type: 'scatter', xAxisIndex: 4 * (c + 1), yAxisIndex: c + 1, data: dots, symbol: 'circle', symbolSize: 6.5, silent: true, z: 6,
      itemStyle: { opacity: 0.95 } });
  }

  const richR = {
    n: { fontSize: 18, fontFamily: SERIF, lineHeight: 19 },
    i: { fontSize: 18, fontFamily: SERIF, fontStyle: 'italic', lineHeight: 19 },
    s: { fontSize: 11, fontFamily: SERIF, verticalAlign: 'bottom', lineHeight: 19 },
    u: { fontSize: 11, fontFamily: SERIF, verticalAlign: 'top', lineHeight: 19 },
  };
  const richT = {
    n: { fontSize: 21, fontFamily: SERIF, lineHeight: 24 },
    i: { fontSize: 21, fontFamily: SERIF, fontStyle: 'italic', lineHeight: 24 },
    m: { fontSize: 22, fontFamily: "'DejaVu Serif', serif", fontWeight: 'bold', fontStyle: 'italic', lineHeight: 24 },
    s: { fontSize: 13, fontFamily: SERIF, verticalAlign: 'bottom', lineHeight: 24 },
  };
  const graphics: any[] = [];
  ROWS.forEach((L, r) => {
    const cy = TOP + (r + 0.5) * ROW_H;
    graphics.push({ type: 'text', x: 22, y: cy, silent: true,
      style: { text: L, fontSize: 23, fontWeight: 'bold', fontFamily: SERIF, fill: '#000', align: 'center', verticalAlign: 'middle', textAlign: 'center', textVerticalAlign: 'middle' } });
    graphics.push({ type: 'text', x: 1771, y: cy, rotation: Math.PI / 2, silent: true,
      style: { text: RIGHT_LABELS[r], rich: richR, fontSize: 18, fontFamily: SERIF, fill: '#000', align: 'center', verticalAlign: 'middle', textAlign: 'center', textVerticalAlign: 'middle' } });
  });
  PANELS.forEach((p, g) => {
    const cx = p.left + p.width / 2;
    for (const yy of [19, 1992]) {
      graphics.push({ type: 'text', x: cx, y: yy, silent: true,
        style: { text: TITLES[g], rich: richT, fontSize: 21, fontFamily: SERIF, fill: '#000', align: 'center', verticalAlign: 'middle', textAlign: 'center', textVerticalAlign: 'middle' } });
    }
  });

  return { animation: false, backgroundColor: '#fff', grid: grids, xAxis: xAxes, yAxis: yAxes, series, graphic: { elements: graphics } };
}

export default function App() {
  const ref = useRef<HTMLDivElement>(null);
  useEffect(() => {
    document.body.style.margin = '0';
    const chart = echarts.init(ref.current!, null, { renderer: 'svg' });
    chart.setOption(buildOption() as any);
    return () => chart.dispose();
  }, []);
  return <div ref={ref} style={{ width: 1800, height: 2016 }} />;
}
